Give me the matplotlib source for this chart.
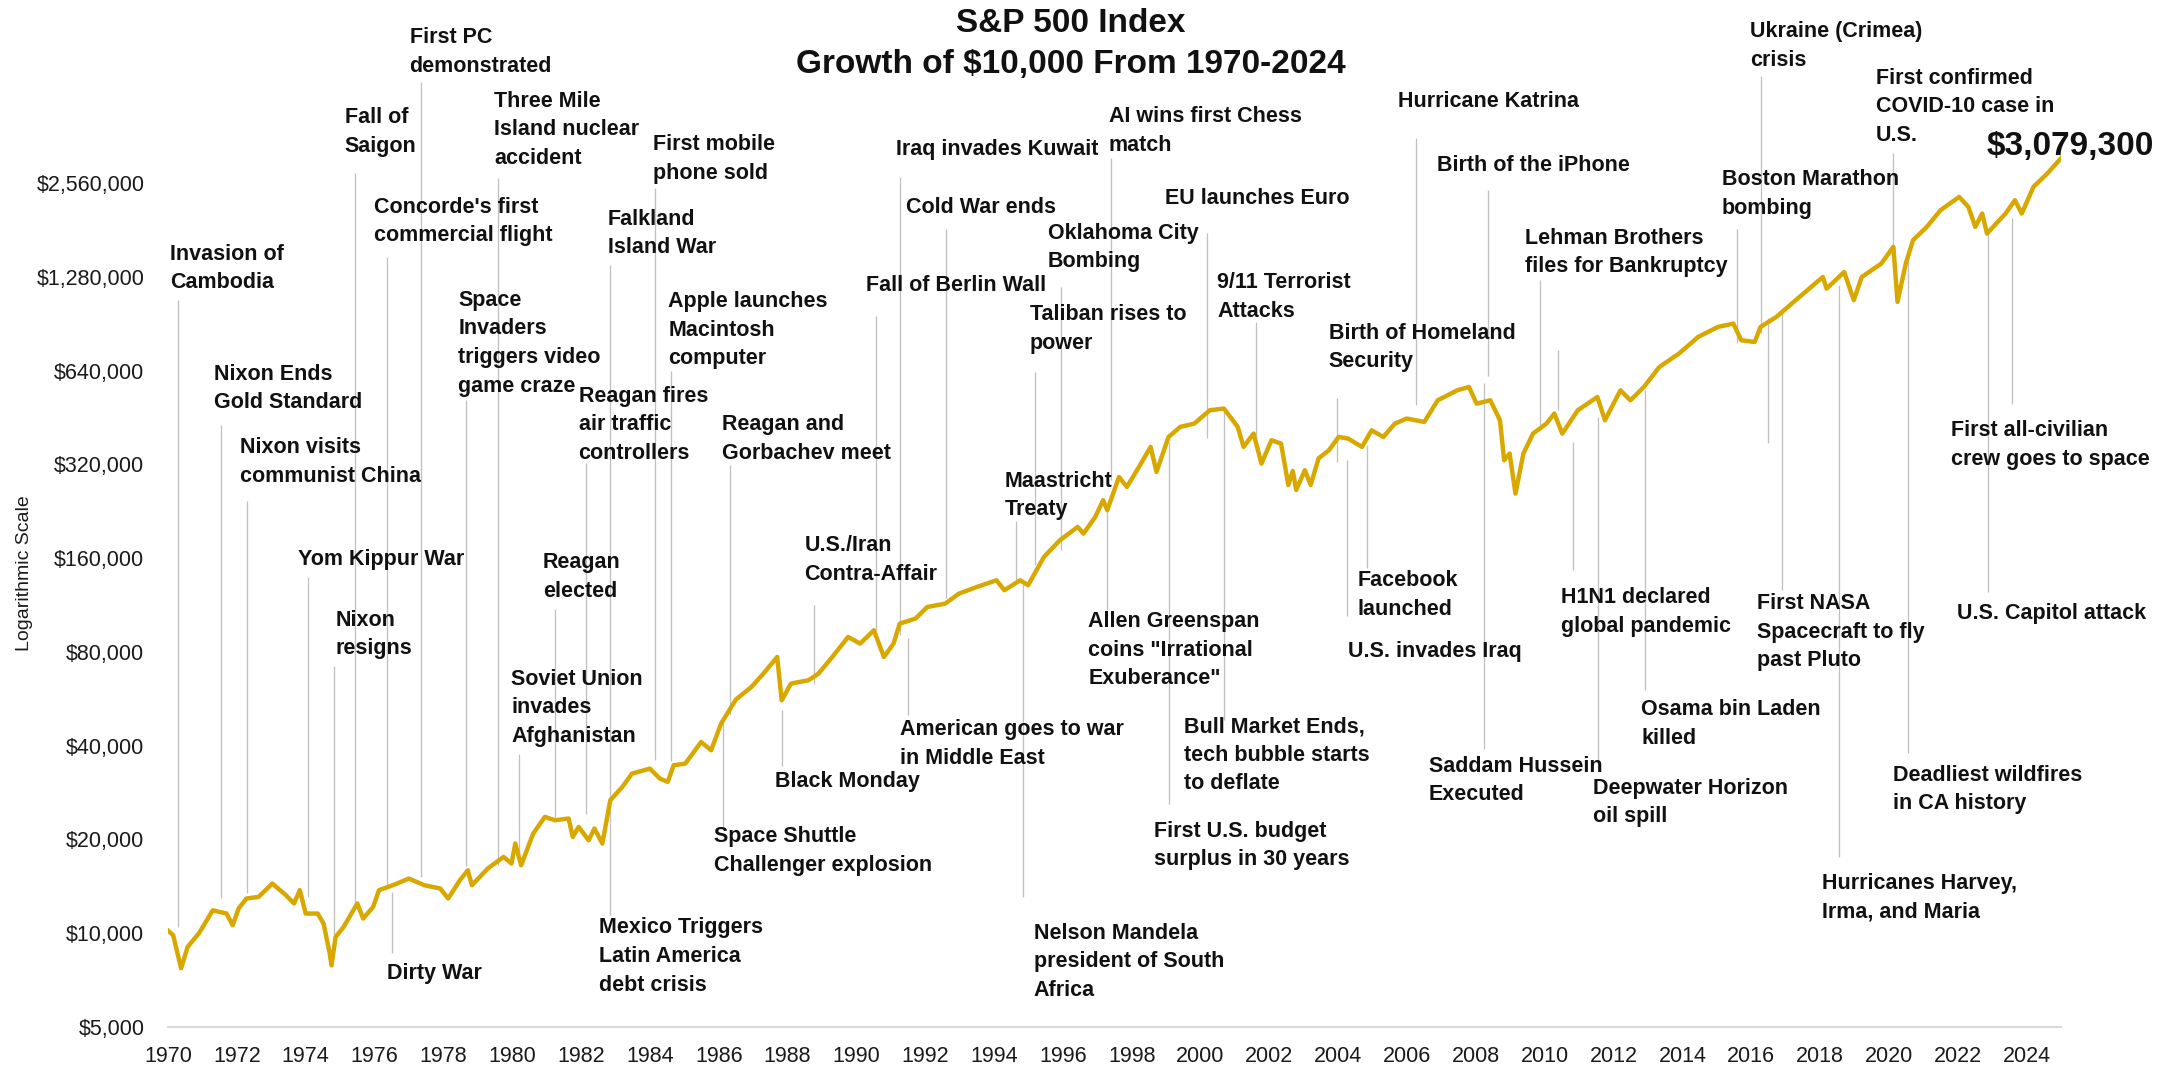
import matplotlib
matplotlib.use("Agg")
import matplotlib.pyplot as plt
from matplotlib.ticker import FixedLocator, FuncFormatter, NullLocator

plt.rcParams['font.family'] = ['Liberation Sans Narrow', 'Liberation Sans', 'DejaVu Sans']

# growth of $10,000 (decimal years)
years = [1970.00, 1970.15, 1970.38, 1970.57, 1970.90, 1971.30, 1971.70, 1971.88, 1972.05, 1972.28,
         1972.63, 1973.03, 1973.43, 1973.66, 1973.83, 1974.00, 1974.35, 1974.52, 1974.70, 1974.75,
         1974.87, 1975.10, 1975.50, 1975.67, 1975.96, 1976.13, 1976.53, 1977.00, 1977.45, 1977.91,
         1978.14, 1978.48, 1978.71, 1978.83, 1979.29, 1979.75, 1979.98, 1980.09, 1980.26, 1980.61,
         1980.95, 1981.24, 1981.64, 1981.76, 1981.93, 1982.22, 1982.39, 1982.62, 1982.85, 1983.20,
         1983.48, 1984.00, 1984.29, 1984.52, 1984.69, 1985.03, 1985.49, 1985.78, 1986.07, 1986.50,
         1986.95, 1987.30, 1987.70, 1987.83, 1988.10, 1988.61, 1988.90, 1989.30, 1989.76, 1990.11,
         1990.51, 1990.80, 1991.08, 1991.26, 1991.72, 1992.06, 1992.58, 1992.98, 1993.50, 1994.07,
         1994.30, 1994.76, 1994.99, 1995.45, 1995.91, 1996.43, 1996.60, 1996.94, 1997.17, 1997.29,
         1997.63, 1997.86, 1998.21, 1998.55, 1998.72, 1999.07, 1999.41, 1999.82, 2000.27, 2000.68,
         2001.08, 2001.25, 2001.54, 2001.77, 2002.06, 2002.34, 2002.55, 2002.68, 2002.78, 2003.03,
         2003.20, 2003.43, 2003.73, 2004.01, 2004.29, 2004.69, 2004.97, 2005.31, 2005.65, 2005.99,
         2006.50, 2006.89, 2007.46, 2007.80, 2008.02, 2008.42, 2008.70, 2008.82, 2008.98, 2009.15,
         2009.38, 2009.66, 2010.05, 2010.28, 2010.51, 2010.96, 2011.53, 2011.75, 2012.20, 2012.49,
         2012.88, 2013.33, 2013.90, 2014.46, 2015.03, 2015.48, 2015.71, 2016.10, 2016.27, 2016.73,
         2017.29, 2018.08, 2018.19, 2018.70, 2018.98, 2019.21, 2019.78, 2020.13, 2020.25, 2020.49,
         2020.70, 2021.10, 2021.50, 2022.04, 2022.31, 2022.51, 2022.71, 2022.85, 2023.39, 2023.66,
         2023.86, 2024.20, 2024.60, 2025.00]
values = [10200, 9860, 7720, 9040, 10000, 11850, 11570, 10610, 12000, 12930,
          13080, 14440, 13240, 12460, 13750, 11570, 11570, 10740, 8600, 7890,
          9730, 10470, 12460, 11150, 12150, 13750, 14260, 14980, 14260, 13920,
          12930, 14800, 15930, 14260, 16140, 17580, 16740, 19410, 16530, 20900,
          23640, 23060, 23350, 20380, 21950, 19890, 21690, 19410, 26740, 29490,
          32560, 33780, 31380, 30610, 34630, 35060, 41120, 38690, 47140, 56300,
          61770, 68200, 77110, 55990, 63340, 64930, 68200, 77110, 89380, 85140,
          93950, 77110, 85140, 98700, 102450, 111580, 114400, 123180, 129400, 135970,
          126300, 135970, 131050, 161560, 182700, 201700, 192000, 217200, 245700, 228200,
          291800, 271100, 314300, 364400, 302900, 392300, 422600, 433200, 478000, 484000,
          422600, 364400, 402200, 322300, 382900, 373400, 275000, 305000, 265000, 306700,
          275000, 335000, 355600, 392300, 387600, 364400, 412100, 392300, 433200, 449500,
          438400, 514300, 553900, 567600, 502000, 514300, 443800, 330200, 347000, 258100,
          347000, 402200, 433200, 466200, 402200, 478000, 527100, 443800, 553900, 514300,
          567600, 658000, 726600, 822100, 884700, 906900, 801900, 791900, 884700, 953000,
          1078000, 1280000, 1175000, 1328000, 1078000, 1280000, 1414000, 1600000, 1065000, 1414000,
          1680000, 1854000, 2098000, 2314000, 2149000, 1854000, 2047000, 1765000, 2047000, 2258000,
          2047000, 2493000, 2750000, 3079300]

final_value = "$3,079,300"
tick_years = list(range(1970, 2025, 2))
tick_values = [5000, 10000, 20000, 40000, 80000, 160000, 320000, 640000, 1280000, 2560000]

event_labels = [
    "Invasion of\nCambodia", "Nixon Ends\nGold Standard", "Nixon visits\ncommunist China",
    "Yom Kippur War", "Nixon\nresigns", "Fall of\nSaigon", "Concorde's first\ncommercial flight",
    "First PC\ndemonstrated", "Dirty War", "Three Mile\nIsland nuclear\naccident",
    "Space\nInvaders\ntriggers video\ngame craze", "Soviet Union\ninvades\nAfghanistan",
    "Reagan\nelected", "Reagan fires\nair traffic\ncontrollers", "Falkland\nIsland War",
    "Mexico Triggers\nLatin America\ndebt crisis", "First mobile\nphone sold",
    "Apple launches\nMacintosh\ncomputer", "Space Shuttle\nChallenger explosion",
    "Reagan and\nGorbachev meet", "Black Monday", "U.S./Iran\nContra-Affair",
    "Fall of Berlin Wall", "Iraq invades Kuwait", "American goes to war\nin Middle East",
    "Cold War ends", "Maastricht\nTreaty", "Nelson Mandela\npresident of South\nAfrica",
    "Taliban rises to\npower", "Oklahoma City\nBombing",
    'Allen Greenspan\ncoins "Irrational\nExuberance"', "AI wins first Chess\nmatch",
    "First U.S. budget\nsurplus in 30 years", "EU launches Euro",
    "Bull Market Ends,\ntech bubble starts\nto deflate", "9/11 Terrorist\nAttacks",
    "Birth of Homeland\nSecurity", "U.S. invades Iraq", "Facebook\nlaunched",
    "Hurricane Katrina", "Saddam Hussein\nExecuted", "Birth of the iPhone",
    "Lehman Brothers\nfiles for Bankruptcy", "H1N1 declared\nglobal pandemic",
    "Deepwater Horizon\noil spill", "Osama bin Laden\nkilled", "Boston Marathon\nbombing",
    "Ukraine (Crimea)\ncrisis", "First NASA\nSpacecraft to fly\npast Pluto",
    "Hurricanes Harvey,\nIrma, and Maria", "First confirmed\nCOVID-10 case in\nU.S.",
    "Deadliest wildfires\nin CA history", "U.S. Capitol attack",
    "First all-civilian\ncrew goes to space",
]
# where each leader line sits on the time axis, as placed on the chart
event_years = [
    1970.28, 1971.53, 1972.29, 1974.07, 1974.83, 1975.43, 1976.35, 1977.34, 1976.51, 1979.60,
    1978.65, 1980.20, 1981.24, 1982.15, 1982.85, 1982.84, 1984.16, 1984.60, 1986.12, 1986.33,
    1987.85, 1988.77, 1990.57, 1991.27, 1991.50, 1992.61, 1994.63, 1994.84, 1995.19, 1995.94,
    1997.29, 1997.41, 1999.07, 2000.19, 2000.67, 2001.62, 2003.97, 2004.25, 2004.84, 2006.25,
    2008.25, 2008.36, 2009.87, 2010.81, 2011.55, 2012.90, 2015.58, 2016.29, 2016.88, 2018.55,
    2020.13, 2020.56, 2022.89, 2023.59,
]

# layout: label left (year), label centre / leader bottom / leader top (axes fraction)
label_layout = [
    (1970.05, 0.753, 0.099, 0.722), (1971.35, 0.634, 0.128, 0.598), (1972.10, 0.561, 0.133, 0.522),
    (1973.77, 0.464, 0.129, 0.447), (1974.87, 0.390, 0.091, 0.358), (1975.13, 0.889, 0.124, 0.848),
    (1975.98, 0.800, 0.138, 0.765), (1977.02, 0.968, 0.149, 0.938), (1976.35, 0.053, 0.073, 0.134),
    (1979.48, 0.891, 0.161, 0.843), (1978.44, 0.679, 0.160, 0.623), (1979.97, 0.317, 0.173, 0.271),
    (1980.89, 0.447, 0.209, 0.415), (1981.93, 0.598, 0.212, 0.560), (1982.78, 0.788, 0.203, 0.757),
    (1982.52, 0.070, 0.111, 0.203), (1984.08, 0.862, 0.265, 0.833), (1984.54, 0.692, 0.264, 0.651),
    (1985.87, 0.175, 0.199, 0.302), (1986.11, 0.584, 0.310, 0.558), (1987.64, 0.244, 0.259, 0.315),
    (1988.49, 0.464, 0.341, 0.419), (1990.29, 0.736, 0.394, 0.706), (1991.15, 0.871, 0.389, 0.844),
    (1991.27, 0.281, 0.310, 0.386), (1991.43, 0.814, 0.426, 0.792), (1994.31, 0.528, 0.444, 0.502),
    (1995.15, 0.065, 0.129, 0.444), (1995.04, 0.693, 0.459, 0.650), (1995.56, 0.774, 0.474, 0.735),
    (1996.74, 0.374, 0.414, 0.512), (1997.34, 0.890, 0.543, 0.863), (1998.66, 0.180, 0.221, 0.581),
    (1998.96, 0.823, 0.585, 0.788), (1999.52, 0.270, 0.305, 0.616), (2000.49, 0.725, 0.576, 0.700),
    (2003.73, 0.675, 0.561, 0.625), (2004.28, 0.373, 0.408, 0.563), (2004.56, 0.429, 0.456, 0.578),
    (2005.74, 0.919, 0.618, 0.883), (2006.64, 0.245, 0.276, 0.640), (2006.87, 0.856, 0.646, 0.831),
    (2009.44, 0.769, 0.598, 0.742), (2010.47, 0.412, 0.454, 0.581), (2011.39, 0.223, 0.254, 0.606),
    (2012.80, 0.301, 0.335, 0.633), (2015.14, 0.827, 0.679, 0.792), (2015.96, 0.974, 0.689, 0.944),
    (2016.17, 0.392, 0.434, 0.709), (2018.07, 0.128, 0.169, 0.737), (2019.62, 0.914, 0.775, 0.868),
    (2020.13, 0.236, 0.272, 0.772), (2021.97, 0.411, 0.432, 0.789), (2021.81, 0.578, 0.619, 0.803),
]
# two leader lines on the chart that carry no label
stray_leaders = [(2010.38, 0.613, 0.672), (2016.50, 0.580, 0.704)]

W, H = 2176, 1068
fig = plt.figure(figsize=(W / 100, H / 100), dpi=100)
ax = fig.add_axes([168 / W, 41 / H, 1893 / W, 1007 / H])

gold = '#D9A800'
lead = '#BFBFBF'

for x, (tx, ty, lo, hi), txt in zip(event_years, label_layout, event_labels):
    ax.vlines(x, lo, hi, transform=ax.get_xaxis_transform(), colors=lead, lw=0.9, zorder=1)
    ax.text(tx, ty, txt, transform=ax.get_xaxis_transform(), ha='left', va='center',
            fontsize=15.5, fontweight='bold', linespacing=1.47, color='#111111', zorder=4)
for x, lo, hi in stray_leaders:
    ax.vlines(x, lo, hi, transform=ax.get_xaxis_transform(), colors=lead, lw=0.9, zorder=1)

ax.plot(years, values, color=gold, lw=3.2, zorder=3, solid_joinstyle='round')
ax.text(2022.85, 0.874, final_value, transform=ax.get_xaxis_transform(), ha='left',
        va='center', fontsize=24, fontweight='bold', color='#111111', zorder=5)

ax.set_yscale('log')
ax.set_xlim(1970, 2025)
ax.set_ylim(5000, 5000 * 2 ** (1007 / 93.75))
ax.yaxis.set_major_locator(FixedLocator(tick_values))
ax.yaxis.set_minor_locator(NullLocator())
ax.yaxis.set_major_formatter(FuncFormatter(lambda v, p: '${:,.0f}'.format(v)))
ax.set_xticks(tick_years)
ax.xaxis.set_minor_locator(NullLocator())
ax.tick_params(axis='both', length=0, labelsize=15.5, colors='#1a1a1a')
ax.tick_params(axis='y', pad=17)
ax.tick_params(axis='x', pad=14)
for side in ['top', 'right', 'left']:
    ax.spines[side].set_visible(False)
ax.spines['bottom'].set_color('#D9D9D9')
ax.spines['bottom'].set_linewidth(1.5)
ax.patch.set_alpha(0)

fig.text(1071 / W, 1 - 23 / H, 'S&P 500 Index', ha='center', va='center',
         fontsize=24, fontweight='bold', color='#111111')
fig.text(1071 / W, 1 - 65 / H, 'Growth of $10,000 From 1970-2024', ha='center', va='center',
         fontsize=24, fontweight='bold', color='#111111')
fig.text(24.5 / W, 1 - 573 / H, 'Logarithmic Scale', rotation=90, ha='center', va='center',
         fontsize=14, color='#1a1a1a')

fig.savefig('out.png', dpi=100)
